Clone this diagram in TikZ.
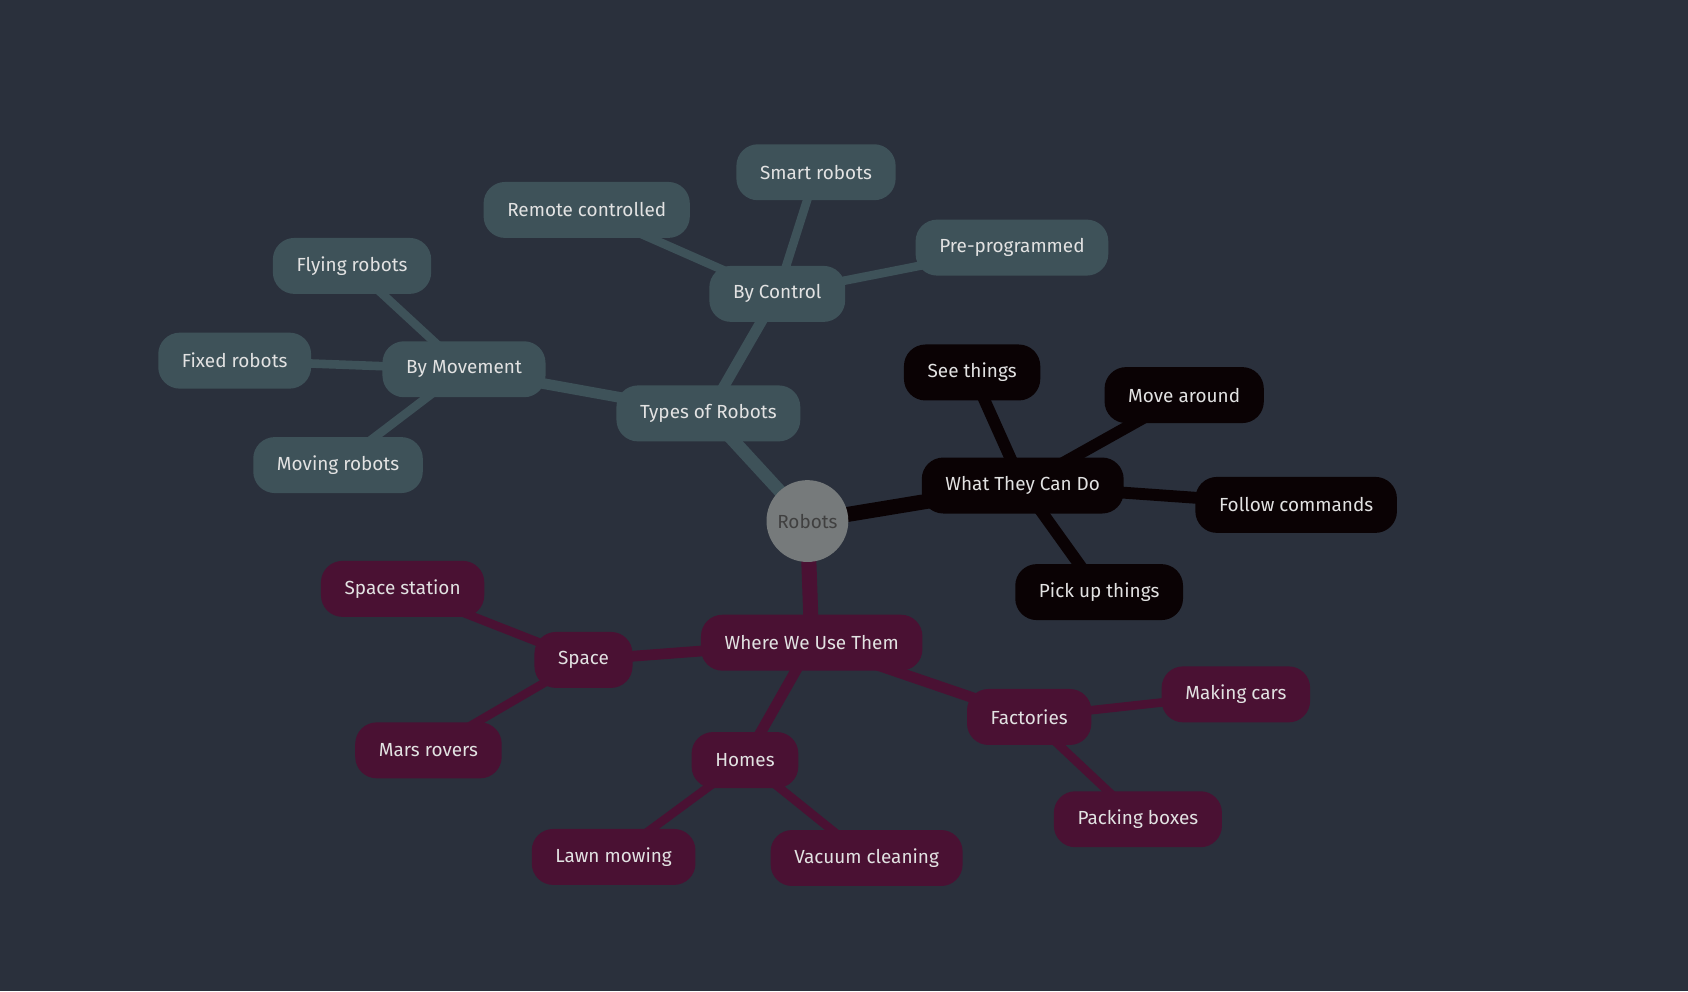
\documentclass[tikz,border=0pt]{standalone}
\usepackage{fontspec}
\setmainfont{Fira Sans}
\usepackage{tikz}

\definecolor{bgcol}{HTML}{2A303C}
\definecolor{tealcol}{HTML}{3E5259}
\definecolor{darkcol}{HTML}{0A0204}
\definecolor{winecol}{HTML}{4A1133}
\definecolor{hubcol}{HTML}{767A7B}
\definecolor{txtcol}{HTML}{E2E2E2}

\pgfdeclarelayer{back}
\pgfsetlayers{back,main}

\begin{document}
\begin{tikzpicture}[x=1pt,y=-1pt]
\tikzstyle{every node}=[minimum height=52pt, inner xsep=22pt, inner ysep=0pt, text=txtcol, font=\fontsize{17.6}{20}\selectfont]
\tikzstyle{box}=[rounded corners=20pt]
\tikzstyle{tbox}=[box, fill=tealcol]
\tikzstyle{dbox}=[box, fill=darkcol]
\tikzstyle{wbox}=[box, fill=winecol]
\draw (750,484) node (robots) [circle, fill=hubcol, minimum size=76pt, inner sep=0pt, text=black!75] {Robots};
\draw (658,384) node (types) [tbox] {Types of Robots};
\draw (722,273) node (control) [tbox] {By Control};
\draw (758,160) node (smart) [tbox] {Smart robots};
\draw (545,195) node (remote) [tbox] {Remote controlled};
\draw (940,230) node (preprog) [tbox] {Pre-programmed};
\draw (431,343) node (movement) [tbox] {By Movement};
\draw (327,247) node (flying) [tbox] {Flying robots};
\draw (218,335) node (fixed) [tbox] {Fixed robots};
\draw (314,432) node (moving) [tbox] {Moving robots};
\draw (950,451) node (cando) [dbox] {What They Can Do};
\draw (903,346) node (see) [dbox] {See things};
\draw (1100,367) node (move) [dbox] {Move around};
\draw (1204,469) node (follow) [dbox] {Follow commands};
\draw (1021,550) node (pick) [dbox] {Pick up things};
\draw (754,597) node (where) [wbox] {Where We Use Them};
\draw (542,613) node (space) [wbox] {Space};
\draw (374,547) node (station) [wbox] {Space station};
\draw (398,697) node (mars) [wbox] {Mars rovers};
\draw (692,706) node (homes) [wbox] {Homes};
\draw (570,796) node (lawn) [wbox] {Lawn mowing};
\draw (805,797) node (vacuum) [wbox] {Vacuum cleaning};
\draw (956,666) node (factories) [wbox] {Factories};
\draw (1148,645) node (cars) [wbox] {Making cars};
\draw (1057,761) node (packing) [wbox] {Packing boxes};
\begin{pgfonlayer}{back}
\fill[bgcol] (0,0) rectangle (1568,921);
% main branches
\draw[tealcol, line width=12pt] (robots.center) -- (types.center);
\draw[darkcol, line width=14pt] (robots.center) -- (cando.center);
\draw[winecol, line width=14pt] (robots.center) -- (where.center);
% types of robots
\draw[tealcol, line width=10pt] (types.center) -- (control.center);
\draw[tealcol, line width=10pt] (types.center) -- (movement.center);
\draw[tealcol, line width=8pt] (control.center) -- (smart.center);
\draw[tealcol, line width=8pt] (control.center) -- (remote.center);
\draw[tealcol, line width=8pt] (control.center) -- (preprog.center);
\draw[tealcol, line width=8pt] (movement.center) -- (flying.center);
\draw[tealcol, line width=8pt] (movement.center) -- (fixed.center);
\draw[tealcol, line width=8pt] (movement.center) -- (moving.center);
% what they can do
\draw[darkcol, line width=11pt] (cando.center) -- (see.center);
\draw[darkcol, line width=11pt] (cando.center) -- (move.center);
\draw[darkcol, line width=11pt] (cando.center) -- (follow.center);
\draw[darkcol, line width=11pt] (cando.center) -- (pick.center);
% where we use them
\draw[winecol, line width=10pt] (where.center) -- (space.center);
\draw[winecol, line width=10pt] (where.center) -- (homes.center);
\draw[winecol, line width=10pt] (where.center) -- (factories.center);
\draw[winecol, line width=8pt] (space.center) -- (station.center);
\draw[winecol, line width=8pt] (space.center) -- (mars.center);
\draw[winecol, line width=8pt] (homes.center) -- (lawn.center);
\draw[winecol, line width=8pt] (homes.center) -- (vacuum.center);
\draw[winecol, line width=8pt] (factories.center) -- (cars.center);
\draw[winecol, line width=8pt] (factories.center) -- (packing.center);
\end{pgfonlayer}
\end{tikzpicture}
\end{document}
